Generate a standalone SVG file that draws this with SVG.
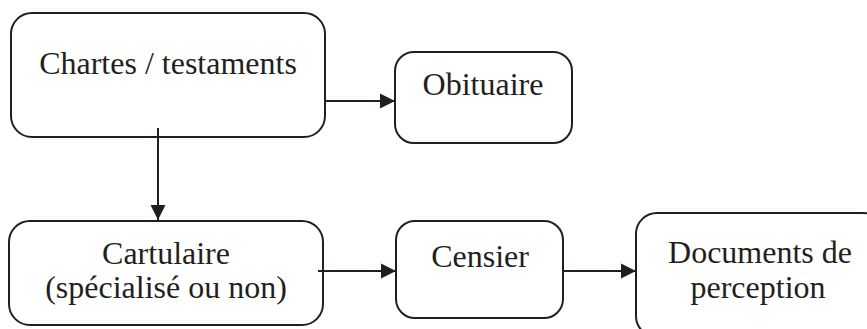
<svg xmlns="http://www.w3.org/2000/svg" width="867" height="329" viewBox="0 0 867 329">
<style>
.box{fill:#fff;stroke:#231f20;stroke-width:2}
.lbl{font-family:"Liberation Serif","Times New Roman",serif;font-size:32px;fill:#231f20;text-anchor:middle}
.con{stroke:#231f20;stroke-width:2;fill:none}
</style>
<defs>
<marker id="ah" markerUnits="userSpaceOnUse" markerWidth="16" markerHeight="16" refX="15" refY="8" orient="auto">
<path d="M0,0.5 L15,8 L0,15.5 Z" fill="#231f20"/>
</marker>
</defs>
<rect width="867" height="329" fill="#fff"/>
<g id="n-chartes">
<rect class="box" x="11" y="13" width="314" height="124" rx="21"/>
<text class="lbl" x="168" y="74">Chartes / testaments</text>
</g>
<g id="n-obituaire">
<rect class="box" x="395" y="52" width="177" height="91" rx="19"/>
<text class="lbl" x="483" y="95">Obituaire</text>
</g>
<g id="n-cartulaire">
<rect class="box" x="9" y="221" width="314" height="104" rx="21"/>
<text class="lbl" x="166" y="264">Cartulaire</text>
<text class="lbl" x="166" y="298">(spécialisé ou non)</text>
</g>
<g id="n-censier">
<rect class="box" x="396" y="221" width="167" height="97" rx="19"/>
<text class="lbl" x="480" y="267">Censier</text>
</g>
<g id="n-documents">
<rect class="box" x="636" y="213" width="248" height="124" rx="21"/>
<text class="lbl" x="760" y="263">Documents de</text>
<text class="lbl" x="758" y="298">perception</text>
</g>
<g id="connectors">
<line class="con" x1="325" y1="101" x2="395" y2="101" marker-end="url(#ah)"/>
<line class="con" x1="158" y1="128" x2="158" y2="220" marker-end="url(#ah)"/>
<line class="con" x1="318" y1="271" x2="396" y2="271" marker-end="url(#ah)"/>
<line class="con" x1="563" y1="271" x2="636" y2="271" marker-end="url(#ah)"/>
</g>
</svg>
